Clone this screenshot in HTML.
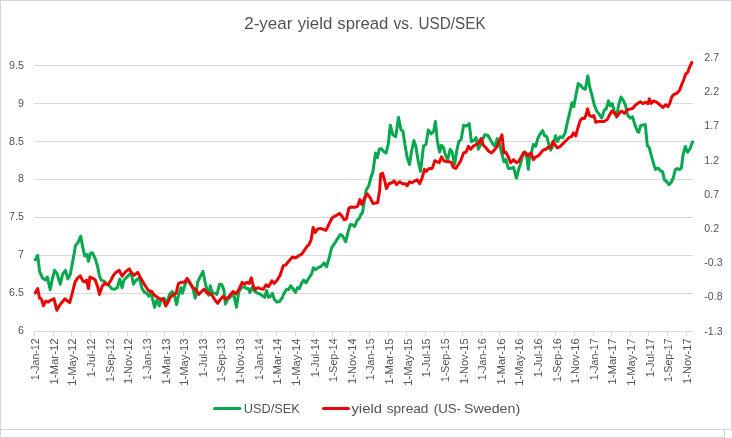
<!DOCTYPE html>
<html><head><meta charset="utf-8"><title>2-year yield spread vs. USD/SEK</title>
<style>
html,body{margin:0;padding:0;background:#fff;}
body{width:732px;height:438px;overflow:hidden;}
svg{display:block;font-family:"Liberation Sans",sans-serif;}
</style></head><body>
<svg width="732" height="438" viewBox="0 0 732 438">
<rect x="0" y="0" width="732" height="438" fill="#ffffff"/>

<rect x="0.5" y="0.5" width="731" height="429" fill="none" stroke="#d4d4d4" stroke-width="1"/>
<path d="M0.5,429.5 V437.5 H724.5 V429.5" fill="none" stroke="#d4d4d4" stroke-width="1"/>
<line x1="34" y1="65.5" x2="693" y2="65.5" stroke="#d9d9d9" stroke-width="1"/>
<line x1="34" y1="103.5" x2="693" y2="103.5" stroke="#d9d9d9" stroke-width="1"/>
<line x1="34" y1="141.5" x2="693" y2="141.5" stroke="#d9d9d9" stroke-width="1"/>
<line x1="34" y1="179.5" x2="693" y2="179.5" stroke="#d9d9d9" stroke-width="1"/>
<line x1="34" y1="217.5" x2="693" y2="217.5" stroke="#d9d9d9" stroke-width="1"/>
<line x1="34" y1="255.5" x2="693" y2="255.5" stroke="#d9d9d9" stroke-width="1"/>
<line x1="34" y1="293.5" x2="693" y2="293.5" stroke="#d9d9d9" stroke-width="1"/>
<line x1="34" y1="331.5" x2="693" y2="331.5" stroke="#d9d9d9" stroke-width="1"/>
<line x1="34.5" y1="331" x2="34.5" y2="336" stroke="#d9d9d9" stroke-width="1"/>
<line x1="53.5" y1="331" x2="53.5" y2="336" stroke="#d9d9d9" stroke-width="1"/>
<line x1="71.5" y1="331" x2="71.5" y2="336" stroke="#d9d9d9" stroke-width="1"/>
<line x1="90.5" y1="331" x2="90.5" y2="336" stroke="#d9d9d9" stroke-width="1"/>
<line x1="108.5" y1="331" x2="108.5" y2="336" stroke="#d9d9d9" stroke-width="1"/>
<line x1="127.5" y1="331" x2="127.5" y2="336" stroke="#d9d9d9" stroke-width="1"/>
<line x1="146.5" y1="331" x2="146.5" y2="336" stroke="#d9d9d9" stroke-width="1"/>
<line x1="164.5" y1="331" x2="164.5" y2="336" stroke="#d9d9d9" stroke-width="1"/>
<line x1="183.5" y1="331" x2="183.5" y2="336" stroke="#d9d9d9" stroke-width="1"/>
<line x1="201.5" y1="331" x2="201.5" y2="336" stroke="#d9d9d9" stroke-width="1"/>
<line x1="220.5" y1="331" x2="220.5" y2="336" stroke="#d9d9d9" stroke-width="1"/>
<line x1="239.5" y1="331" x2="239.5" y2="336" stroke="#d9d9d9" stroke-width="1"/>
<line x1="257.5" y1="331" x2="257.5" y2="336" stroke="#d9d9d9" stroke-width="1"/>
<line x1="276.5" y1="331" x2="276.5" y2="336" stroke="#d9d9d9" stroke-width="1"/>
<line x1="295.5" y1="331" x2="295.5" y2="336" stroke="#d9d9d9" stroke-width="1"/>
<line x1="313.5" y1="331" x2="313.5" y2="336" stroke="#d9d9d9" stroke-width="1"/>
<line x1="332.5" y1="331" x2="332.5" y2="336" stroke="#d9d9d9" stroke-width="1"/>
<line x1="350.5" y1="331" x2="350.5" y2="336" stroke="#d9d9d9" stroke-width="1"/>
<line x1="369.5" y1="331" x2="369.5" y2="336" stroke="#d9d9d9" stroke-width="1"/>
<line x1="388.5" y1="331" x2="388.5" y2="336" stroke="#d9d9d9" stroke-width="1"/>
<line x1="406.5" y1="331" x2="406.5" y2="336" stroke="#d9d9d9" stroke-width="1"/>
<line x1="425.5" y1="331" x2="425.5" y2="336" stroke="#d9d9d9" stroke-width="1"/>
<line x1="444.5" y1="331" x2="444.5" y2="336" stroke="#d9d9d9" stroke-width="1"/>
<line x1="462.5" y1="331" x2="462.5" y2="336" stroke="#d9d9d9" stroke-width="1"/>
<line x1="481.5" y1="331" x2="481.5" y2="336" stroke="#d9d9d9" stroke-width="1"/>
<line x1="499.5" y1="331" x2="499.5" y2="336" stroke="#d9d9d9" stroke-width="1"/>
<line x1="518.5" y1="331" x2="518.5" y2="336" stroke="#d9d9d9" stroke-width="1"/>
<line x1="537.5" y1="331" x2="537.5" y2="336" stroke="#d9d9d9" stroke-width="1"/>
<line x1="555.5" y1="331" x2="555.5" y2="336" stroke="#d9d9d9" stroke-width="1"/>
<line x1="574.5" y1="331" x2="574.5" y2="336" stroke="#d9d9d9" stroke-width="1"/>
<line x1="593.5" y1="331" x2="593.5" y2="336" stroke="#d9d9d9" stroke-width="1"/>
<line x1="611.5" y1="331" x2="611.5" y2="336" stroke="#d9d9d9" stroke-width="1"/>
<line x1="630.5" y1="331" x2="630.5" y2="336" stroke="#d9d9d9" stroke-width="1"/>
<line x1="648.5" y1="331" x2="648.5" y2="336" stroke="#d9d9d9" stroke-width="1"/>
<line x1="667.5" y1="331" x2="667.5" y2="336" stroke="#d9d9d9" stroke-width="1"/>
<line x1="686.5" y1="331" x2="686.5" y2="336" stroke="#d9d9d9" stroke-width="1"/>
<g fill="#525252" font-size="10.6px">
<text x="23.8" y="69.0" text-anchor="end">9.5</text>
<text x="23.8" y="106.8" text-anchor="end">9</text>
<text x="23.8" y="144.7" text-anchor="end">8.5</text>
<text x="23.8" y="182.4" text-anchor="end">8</text>
<text x="23.8" y="220.2" text-anchor="end">7.5</text>
<text x="23.8" y="258.1" text-anchor="end">7</text>
<text x="23.8" y="295.9" text-anchor="end">6.5</text>
<text x="23.8" y="333.6" text-anchor="end">6</text>
<text x="704.3" y="60.9">2.7</text>
<text x="704.3" y="95.1">2.2</text>
<text x="704.3" y="129.3">1.7</text>
<text x="704.3" y="163.5">1.2</text>
<text x="704.3" y="197.8">0.7</text>
<text x="704.3" y="232.0">0.2</text>
<text x="704.3" y="266.2">-0.3</text>
<text x="704.3" y="300.4">-0.8</text>
<text x="704.3" y="334.7">-1.3</text>
<text transform="translate(39.2,338.4) rotate(-90)" text-anchor="end" font-size="10.6px" textLength="41.8" lengthAdjust="spacingAndGlyphs">1-Jan-12</text>
<text transform="translate(57.8,338.4) rotate(-90)" text-anchor="end" font-size="10.6px" textLength="46.2" lengthAdjust="spacingAndGlyphs">1-Mar-12</text>
<text transform="translate(76.4,338.4) rotate(-90)" text-anchor="end" font-size="10.6px" textLength="47.4" lengthAdjust="spacingAndGlyphs">1-May-12</text>
<text transform="translate(95.1,338.4) rotate(-90)" text-anchor="end" font-size="10.6px" textLength="38.8" lengthAdjust="spacingAndGlyphs">1-Jul-12</text>
<text transform="translate(113.7,338.4) rotate(-90)" text-anchor="end" font-size="10.6px" textLength="43.7" lengthAdjust="spacingAndGlyphs">1-Sep-12</text>
<text transform="translate(132.3,338.4) rotate(-90)" text-anchor="end" font-size="10.6px" textLength="45.5" lengthAdjust="spacingAndGlyphs">1-Nov-12</text>
<text transform="translate(150.9,338.4) rotate(-90)" text-anchor="end" font-size="10.6px" textLength="41.8" lengthAdjust="spacingAndGlyphs">1-Jan-13</text>
<text transform="translate(169.5,338.4) rotate(-90)" text-anchor="end" font-size="10.6px" textLength="46.2" lengthAdjust="spacingAndGlyphs">1-Mar-13</text>
<text transform="translate(188.2,338.4) rotate(-90)" text-anchor="end" font-size="10.6px" textLength="47.4" lengthAdjust="spacingAndGlyphs">1-May-13</text>
<text transform="translate(206.8,338.4) rotate(-90)" text-anchor="end" font-size="10.6px" textLength="38.8" lengthAdjust="spacingAndGlyphs">1-Jul-13</text>
<text transform="translate(225.4,338.4) rotate(-90)" text-anchor="end" font-size="10.6px" textLength="43.7" lengthAdjust="spacingAndGlyphs">1-Sep-13</text>
<text transform="translate(244.0,338.4) rotate(-90)" text-anchor="end" font-size="10.6px" textLength="45.5" lengthAdjust="spacingAndGlyphs">1-Nov-13</text>
<text transform="translate(262.6,338.4) rotate(-90)" text-anchor="end" font-size="10.6px" textLength="41.8" lengthAdjust="spacingAndGlyphs">1-Jan-14</text>
<text transform="translate(281.3,338.4) rotate(-90)" text-anchor="end" font-size="10.6px" textLength="46.2" lengthAdjust="spacingAndGlyphs">1-Mar-14</text>
<text transform="translate(299.9,338.4) rotate(-90)" text-anchor="end" font-size="10.6px" textLength="47.4" lengthAdjust="spacingAndGlyphs">1-May-14</text>
<text transform="translate(318.5,338.4) rotate(-90)" text-anchor="end" font-size="10.6px" textLength="38.8" lengthAdjust="spacingAndGlyphs">1-Jul-14</text>
<text transform="translate(337.1,338.4) rotate(-90)" text-anchor="end" font-size="10.6px" textLength="43.7" lengthAdjust="spacingAndGlyphs">1-Sep-14</text>
<text transform="translate(355.7,338.4) rotate(-90)" text-anchor="end" font-size="10.6px" textLength="45.5" lengthAdjust="spacingAndGlyphs">1-Nov-14</text>
<text transform="translate(374.4,338.4) rotate(-90)" text-anchor="end" font-size="10.6px" textLength="41.8" lengthAdjust="spacingAndGlyphs">1-Jan-15</text>
<text transform="translate(393.0,338.4) rotate(-90)" text-anchor="end" font-size="10.6px" textLength="46.2" lengthAdjust="spacingAndGlyphs">1-Mar-15</text>
<text transform="translate(411.6,338.4) rotate(-90)" text-anchor="end" font-size="10.6px" textLength="47.4" lengthAdjust="spacingAndGlyphs">1-May-15</text>
<text transform="translate(430.2,338.4) rotate(-90)" text-anchor="end" font-size="10.6px" textLength="38.8" lengthAdjust="spacingAndGlyphs">1-Jul-15</text>
<text transform="translate(448.8,338.4) rotate(-90)" text-anchor="end" font-size="10.6px" textLength="43.7" lengthAdjust="spacingAndGlyphs">1-Sep-15</text>
<text transform="translate(467.5,338.4) rotate(-90)" text-anchor="end" font-size="10.6px" textLength="45.5" lengthAdjust="spacingAndGlyphs">1-Nov-15</text>
<text transform="translate(486.1,338.4) rotate(-90)" text-anchor="end" font-size="10.6px" textLength="41.8" lengthAdjust="spacingAndGlyphs">1-Jan-16</text>
<text transform="translate(504.7,338.4) rotate(-90)" text-anchor="end" font-size="10.6px" textLength="46.2" lengthAdjust="spacingAndGlyphs">1-Mar-16</text>
<text transform="translate(523.3,338.4) rotate(-90)" text-anchor="end" font-size="10.6px" textLength="47.4" lengthAdjust="spacingAndGlyphs">1-May-16</text>
<text transform="translate(541.9,338.4) rotate(-90)" text-anchor="end" font-size="10.6px" textLength="38.8" lengthAdjust="spacingAndGlyphs">1-Jul-16</text>
<text transform="translate(560.6,338.4) rotate(-90)" text-anchor="end" font-size="10.6px" textLength="43.7" lengthAdjust="spacingAndGlyphs">1-Sep-16</text>
<text transform="translate(579.2,338.4) rotate(-90)" text-anchor="end" font-size="10.6px" textLength="45.5" lengthAdjust="spacingAndGlyphs">1-Nov-16</text>
<text transform="translate(597.8,338.4) rotate(-90)" text-anchor="end" font-size="10.6px" textLength="41.8" lengthAdjust="spacingAndGlyphs">1-Jan-17</text>
<text transform="translate(616.4,338.4) rotate(-90)" text-anchor="end" font-size="10.6px" textLength="46.2" lengthAdjust="spacingAndGlyphs">1-Mar-17</text>
<text transform="translate(635.0,338.4) rotate(-90)" text-anchor="end" font-size="10.6px" textLength="47.4" lengthAdjust="spacingAndGlyphs">1-May-17</text>
<text transform="translate(653.7,338.4) rotate(-90)" text-anchor="end" font-size="10.6px" textLength="38.8" lengthAdjust="spacingAndGlyphs">1-Jul-17</text>
<text transform="translate(672.3,338.4) rotate(-90)" text-anchor="end" font-size="10.6px" textLength="43.7" lengthAdjust="spacingAndGlyphs">1-Sep-17</text>
<text transform="translate(690.9,338.4) rotate(-90)" text-anchor="end" font-size="10.6px" textLength="45.5" lengthAdjust="spacingAndGlyphs">1-Nov-17</text>
</g>
<text y="28.8" fill="#525252" font-size="17.2px"><tspan x="244.2" textLength="48.3" lengthAdjust="spacingAndGlyphs">2-year</tspan> <tspan x="297.7" textLength="34.7" lengthAdjust="spacingAndGlyphs">yield</tspan> <tspan x="337.3" textLength="51.1" lengthAdjust="spacingAndGlyphs">spread</tspan> <tspan x="393.4" textLength="19.9" lengthAdjust="spacingAndGlyphs">vs.</tspan> <tspan x="418.6" textLength="67.0" lengthAdjust="spacingAndGlyphs">USD/SEK</tspan></text>
<path d="M35.2,259.8 L37.7,255.4 L39.6,271.3 L42.5,278.1 L45.4,280.0 L47.3,277.1 L50.2,289.6 L52.1,280.0 L54.6,270.4 L56.9,273.3 L60.3,284.2 L62.6,274.2 L65.5,270.4 L67.8,279.0 L70.3,274.2 L73.2,258.9 L75.5,245.4 L78.0,242.6 L80.7,236.2 L82.8,247.4 L84.7,256.0 L87.0,254.6 L88.5,261.2 L90.5,253.1 L92.4,252.7 L95.3,258.9 L97.6,266.5 L99.5,276.1 L101.4,280.4 L103.9,280.9 L105.8,283.8 L108.7,284.8 L111.6,288.6 L114.5,289.2 L117.3,287.7 L119.8,279.0 L122.1,287.7 L124.0,280.0 L126.9,277.1 L130.6,273.3 L131.9,276.1 L133.4,284.2 L136.3,280.0 L139.2,278.1 L142.1,288.6 L144.6,292.5 L146.9,293.4 L148.8,296.3 L150.3,292.5 L152.2,297.3 L154.5,307.2 L156.9,300.1 L159.3,305.9 L161.3,299.2 L164.1,298.2 L167.0,303.0 L169.5,294.4 L172.2,291.5 L174.7,296.3 L176.6,304.6 L178.5,295.3 L181.0,287.7 L182.4,293.4 L185.3,283.8 L187.2,280.0 L190.1,283.4 L192.9,288.6 L195.2,298.2 L197.7,281.9 L200.6,276.1 L202.9,271.3 L205.4,283.8 L207.3,290.5 L208.7,295.3 L210.2,285.7 L212.1,292.5 L215.0,293.4 L216.9,294.4 L219.6,284.2 L221.9,284.8 L223.8,289.6 L225.4,304.0 L227.7,299.2 L230.2,297.3 L232.6,293.4 L234.6,298.2 L236.5,307.2 L238.8,291.5 L241.7,287.7 L244.2,286.7 L246.5,288.6 L248.4,288.6 L249.9,292.5 L251.8,287.7 L254.1,290.5 L257.0,293.0 L259.5,293.8 L261.8,295.3 L264.7,297.3 L266.6,290.5 L268.5,297.3 L270.5,296.3 L272.4,293.4 L274.3,299.2 L276.8,302.1 L279.5,301.5 L282.0,298.2 L284.5,292.5 L286.8,289.2 L288.7,289.6 L290.6,285.7 L292.9,288.6 L295.4,292.5 L297.3,287.7 L299.3,288.6 L301.7,282.9 L303.7,280.0 L306.0,282.9 L308.3,279.0 L311.5,274.1 L313.4,267.7 L315.7,269.7 L318.2,267.7 L321.1,266.4 L324.0,262.9 L326.5,266.8 L328.8,259.1 L331.7,247.6 L334.5,243.7 L337.4,238.9 L340.3,234.5 L342.6,236.1 L345.7,241.8 L348.0,232.2 L350.3,224.5 L352.8,224.9 L354.7,226.5 L357.2,220.3 L359.1,218.8 L361.0,214.0 L362.4,213.0 L364.3,201.5 L366.2,190.0 L368.8,185.7 L371.1,177.0 L373.0,171.3 L375.5,153.0 L377.4,157.8 L379.3,149.2 L381.3,148.6 L383.8,151.7 L386.1,153.0 L388.4,143.4 L390.3,125.2 L392.8,134.8 L395.7,136.7 L398.5,117.5 L401.0,130.0 L403.0,131.0 L404.9,144.4 L407.2,157.8 L409.5,164.5 L411.4,152.1 L413.9,140.5 L415.8,146.3 L418.3,161.7 L420.6,171.3 L423.5,146.3 L426.0,144.4 L428.3,130.0 L431.2,133.8 L433.7,131.0 L435.4,121.4 L437.3,140.5 L439.6,152.1 L441.5,145.3 L443.4,147.3 L445.4,154.9 L447.7,159.7 L450.2,149.2 L452.1,152.1 L454.6,164.5 L456.9,150.1 L458.8,141.5 L461.1,139.6 L463.6,125.2 L466.5,126.2 L469.3,123.7 L471.3,141.5 L473.8,140.5 L476.1,137.7 L478.4,149.2 L480.3,145.3 L482.2,140.5 L484.7,134.8 L487.6,135.2 L489.9,138.6 L492.4,143.4 L494.9,146.3 L497.2,138.6 L499.5,143.4 L501.4,152.1 L503.9,161.7 L505.8,159.7 L508.3,168.4 L510.6,168.4 L513.5,167.4 L516.4,178.0 L518.7,169.3 L520.6,163.6 L522.5,155.9 L525.0,152.1 L526.9,157.8 L528.3,169.3 L529.6,156.9 L531.5,152.1 L533.4,144.4 L535.7,146.3 L537.7,138.6 L540.2,133.8 L542.6,130.6 L544.6,135.8 L546.9,136.7 L548.8,144.4 L550.7,150.1 L552.6,146.3 L555.5,135.8 L557.4,141.5 L559.9,136.7 L562.6,137.7 L565.1,132.9 L567.6,121.4 L569.9,111.8 L571.9,102.8 L573.8,106.6 L576.3,93.2 L578.2,83.6 L580.7,85.5 L583.0,88.4 L585.3,89.3 L587.8,75.9 L589.8,87.4 L592.2,96.1 L594.5,105.7 L596.9,111.4 L599.3,114.3 L601.8,118.1 L604.1,110.5 L606.4,108.5 L608.4,100.9 L610.3,105.7 L612.2,103.7 L614.1,110.5 L616.6,117.2 L618.5,105.7 L621.0,97.0 L623.3,100.3 L625.6,105.7 L627.6,115.3 L630.1,118.1 L632.6,116.8 L634.9,124.9 L637.7,131.6 L638.8,132.2 L640.7,125.4 L643.0,125.1 L645.3,124.5 L647.3,145.6 L649.2,147.5 L651.7,157.1 L654.2,165.7 L655.5,169.6 L658.0,168.0 L660.3,170.5 L662.6,171.9 L664.5,180.1 L666.4,181.1 L668.9,184.6 L671.4,182.1 L673.4,177.3 L675.3,169.6 L677.2,168.6 L679.5,169.6 L681.4,168.0 L683.0,155.2 L685.3,146.5 L687.6,152.3 L690.1,148.5 L692.6,141.8" fill="none" stroke="#08a84f" stroke-width="3" stroke-linejoin="round" stroke-linecap="round"/>
<path d="M35.2,293.0 L37.7,288.6 L39.6,298.2 L41.5,299.2 L43.4,305.9 L45.7,301.1 L48.2,302.1 L51.1,300.1 L54.0,298.8 L56.9,310.3 L59.8,304.9 L62.2,302.1 L64.9,298.8 L67.4,301.1 L69.7,302.6 L72.2,293.4 L75.1,281.9 L77.6,278.1 L80.3,275.8 L82.8,280.9 L84.7,281.9 L86.6,280.0 L88.5,288.6 L89.9,277.1 L92.4,278.1 L95.3,280.0 L97.6,286.7 L99.5,294.4 L102.0,286.7 L104.9,282.9 L107.7,284.8 L110.6,280.9 L113.5,275.2 L116.0,272.3 L119.3,270.4 L122.1,276.1 L125.0,272.3 L129.2,268.9 L131.9,273.3 L134.4,275.2 L137.7,272.3 L140.7,278.1 L143.4,282.9 L145.9,286.7 L148.4,290.5 L151.7,291.5 L154.5,295.3 L157.4,297.3 L160.3,299.2 L163.2,299.2 L165.7,305.9 L168.0,302.1 L170.3,297.3 L173.4,294.4 L176.0,293.4 L178.5,283.4 L181.4,282.3 L184.3,282.3 L187.2,278.4 L190.1,282.9 L192.9,287.7 L195.8,289.6 L198.7,294.4 L201.6,291.5 L204.1,289.2 L206.8,293.0 L209.8,293.4 L212.1,295.3 L215.0,300.1 L217.7,303.4 L220.6,299.2 L223.1,296.3 L225.4,299.2 L228.2,297.3 L230.7,294.4 L233.0,291.5 L235.9,293.8 L238.8,289.6 L242.2,282.3 L244.5,284.2 L246.9,282.3 L249.3,283.4 L251.3,277.7 L253.2,285.7 L255.1,289.6 L257.6,287.7 L260.3,288.6 L263.4,289.2 L266.0,284.8 L268.5,286.7 L271.8,280.9 L274.3,283.4 L277.2,280.0 L280.1,275.2 L283.3,265.6 L285.8,265.0 L288.7,261.2 L292.5,257.0 L295.4,257.9 L298.3,256.0 L301.7,254.1 L305.0,249.3 L307.9,245.4 L308.6,245.3 L311.1,239.9 L313.1,227.4 L315.0,232.6 L317.3,229.3 L320.2,228.4 L323.0,229.3 L325.9,230.3 L328.8,224.5 L332.2,217.8 L335.5,215.9 L339.3,213.4 L341.8,215.9 L344.1,219.8 L346.4,218.8 L348.9,208.2 L351.4,206.9 L354.7,207.3 L357.6,206.3 L359.9,199.6 L361.8,204.4 L364.3,198.6 L367.2,193.8 L370.1,197.7 L372.9,203.4 L375.8,203.1 L377.7,202.5 L379.7,190.0 L380.7,174.1 L382.6,173.2 L384.5,179.9 L386.4,188.5 L388.9,183.7 L391.8,182.8 L394.1,180.9 L396.6,184.7 L399.5,181.8 L402.4,183.7 L405.3,183.7 L407.2,185.7 L409.5,181.8 L412.0,182.8 L414.9,180.9 L417.2,179.9 L419.7,183.7 L422.1,178.0 L424.5,169.3 L426.4,171.3 L429.3,168.4 L431.7,168.4 L432.3,168.4 L434.8,160.7 L436.7,161.7 L439.2,162.6 L441.5,156.9 L443.8,160.7 L446.3,161.7 L449.2,161.7 L451.5,162.6 L453.4,167.4 L455.9,168.4 L458.4,164.5 L460.7,160.7 L463.6,153.0 L466.1,152.1 L468.4,146.3 L470.7,149.2 L473.2,146.3 L476.1,144.4 L478.4,143.4 L480.9,138.6 L483.4,145.3 L485.7,147.3 L488.5,151.1 L491.4,153.0 L494.3,150.1 L497.2,146.3 L499.5,140.5 L502.0,134.8 L503.9,153.0 L505.8,152.1 L508.3,156.9 L510.6,162.6 L513.5,159.7 L516.4,162.6 L518.7,161.7 L521.2,156.9 L524.0,152.1 L526.0,153.0 L527.9,155.9 L529.2,154.0 L531.1,153.0 L533.4,159.7 L535.7,156.9 L538.2,155.9 L540.7,153.0 L543.0,150.1 L545.9,149.2 L548.4,147.3 L550.7,147.3 L553.0,141.5 L555.5,145.3 L557.4,147.8 L560.3,146.3 L563.2,143.4 L566.1,140.5 L568.9,137.7 L571.4,136.7 L573.4,132.9 L575.7,135.8 L577.6,129.0 L579.9,121.4 L581.8,118.5 L584.3,118.5 L586.2,114.6 L587.6,108.9 L589.5,115.6 L592.0,116.6 L593.9,115.6 L595.8,122.3 L598.7,121.4 L601.6,121.4 L604.5,121.4 L607.3,119.4 L609.8,114.6 L611.8,111.0 L614.7,113.3 L617.2,116.2 L619.9,112.4 L621.8,111.0 L624.3,113.3 L627.2,109.9 L630.1,109.1 L632.6,108.5 L634.9,105.7 L637.7,103.4 L640.6,101.8 L642.9,103.7 L645.4,102.2 L647.9,103.7 L649.4,98.9 L651.2,103.4 L653.7,100.9 L656.0,101.8 L658.3,103.4 L660.7,105.7 L663.0,107.6 L665.5,104.7 L668.0,106.6 L669.9,102.8 L671.8,97.0 L674.1,94.1 L677.0,93.2 L679.5,90.3 L681.8,84.5 L684.1,78.8 L685.7,74.0 L687.6,72.6 L689.5,67.3 L691.8,62.5" fill="none" stroke="#ea0606" stroke-width="3" stroke-linejoin="round" stroke-linecap="round"/>
<line x1="214.5" y1="408.4" x2="240" y2="408.4" stroke="#08a84f" stroke-width="3" stroke-linecap="round"/>
<text y="413.1" fill="#525252" font-size="13.1px"><tspan x="243.7" textLength="56.2" lengthAdjust="spacingAndGlyphs">USD/SEK</tspan></text>
<line x1="323.5" y1="408.4" x2="348.5" y2="408.4" stroke="#ea0606" stroke-width="3" stroke-linecap="round"/>
<text y="413.1" fill="#525252" font-size="13.1px"><tspan x="351.4" textLength="30.7" lengthAdjust="spacingAndGlyphs">yield</tspan> <tspan x="386.7" textLength="41.8" lengthAdjust="spacingAndGlyphs">spread</tspan> <tspan x="433.8" textLength="27.2" lengthAdjust="spacingAndGlyphs">(US-</tspan> <tspan x="464.0" textLength="56.2" lengthAdjust="spacingAndGlyphs">Sweden)</tspan></text>
</svg></body></html>
